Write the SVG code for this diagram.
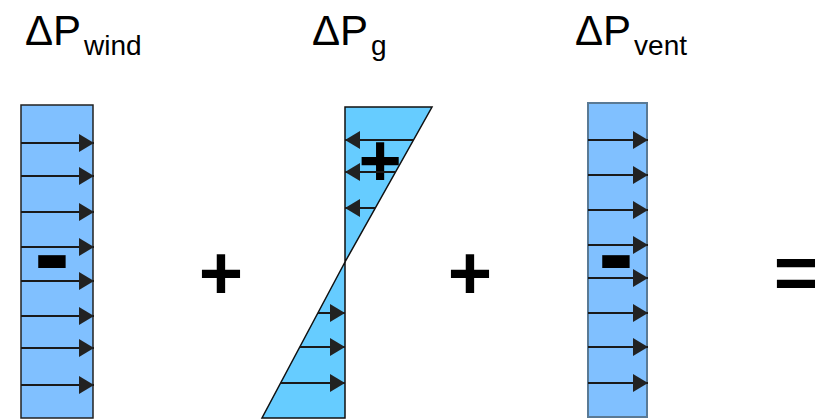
<svg xmlns="http://www.w3.org/2000/svg" width="823" height="420" viewBox="0 0 823 420">
<defs>
<style>
.lbl{font-family:"Liberation Sans",Arial,sans-serif;font-size:42px;fill:#000}
.sub{font-size:28px}
.sym{font-family:"Liberation Sans",Arial,sans-serif;font-weight:bold;fill:#000;text-anchor:middle}
.arr{stroke:#1a1a1a;stroke-width:2;fill:none;marker-end:url(#ah)}
</style>
<marker id="ah" markerUnits="userSpaceOnUse" markerWidth="16" markerHeight="19" refX="15" refY="9" orient="auto" viewBox="0 0 16 19">
<path d="M0,0 L15,9 L0,18 z" fill="#222"/>
</marker>
</defs>
<g id="label-wind"><text class="lbl" x="25" y="45">ΔP<tspan class="sub" dx="3" dy="10">wind</tspan></text></g>
<g id="label-g"><text class="lbl" x="312" y="45">ΔP<tspan class="sub" dx="3" dy="10">g</tspan></text></g>
<g id="label-vent"><text class="lbl" x="575" y="45">ΔP<tspan class="sub" dx="3" dy="10">vent</tspan></text></g>

<g id="wind">
<rect x="21" y="105" width="72" height="313" fill="#80C0FF" stroke="#222" stroke-width="1.5"/>
<text class="sym" x="52" y="290" font-size="108">-</text>
</g>
<g id="plus1"><text class="sym" x="221" y="299" font-size="76">+</text></g>
<g id="g">
<polygon points="345,107 432,107 345,262" fill="#66CCFF" stroke="#111" stroke-width="1.5"/>
<polygon points="345,262 345,418 262,418" fill="#66CCFF" stroke="#111" stroke-width="1.5"/>
<text class="sym" x="380" y="186" font-size="74">+</text>
</g>
<g id="plus2"><text class="sym" x="470" y="299" font-size="76">+</text></g>
<g id="vent">
<rect x="588" y="103" width="59" height="314" fill="#80C0FF" stroke="#5a7a95" stroke-width="2"/>
<text class="sym" x="616" y="290" font-size="108">-</text>
</g>
<g id="equals"><text class="sym" x="796" y="299" font-size="76">=</text></g>

<g id="connectors">
<line class="arr" x1="21" y1="143" x2="94" y2="143"/>
<line class="arr" x1="21" y1="176" x2="94" y2="176"/>
<line class="arr" x1="21" y1="212" x2="94" y2="212"/>
<line class="arr" x1="21" y1="247" x2="94" y2="247"/>
<line class="arr" x1="21" y1="281" x2="94" y2="281"/>
<line class="arr" x1="21" y1="316" x2="94" y2="316"/>
<line class="arr" x1="21" y1="348" x2="94" y2="348"/>
<line class="arr" x1="21" y1="385" x2="94" y2="385"/>

<line class="arr" x1="413" y1="140" x2="345" y2="140"/>
<line class="arr" x1="395" y1="172" x2="345" y2="172"/>
<line class="arr" x1="375" y1="208" x2="345" y2="208"/>
<line class="arr" x1="318" y1="313" x2="345" y2="313"/>
<line class="arr" x1="300" y1="347" x2="345" y2="347"/>
<line class="arr" x1="281" y1="383" x2="345" y2="383"/>

<line class="arr" x1="588" y1="140" x2="648" y2="140"/>
<line class="arr" x1="588" y1="175" x2="648" y2="175"/>
<line class="arr" x1="588" y1="210" x2="648" y2="210"/>
<line class="arr" x1="588" y1="245" x2="648" y2="245"/>
<line class="arr" x1="588" y1="278" x2="648" y2="278"/>
<line class="arr" x1="588" y1="313" x2="648" y2="313"/>
<line class="arr" x1="588" y1="347" x2="648" y2="347"/>
<line class="arr" x1="588" y1="383" x2="648" y2="383"/>
</g>
</svg>
